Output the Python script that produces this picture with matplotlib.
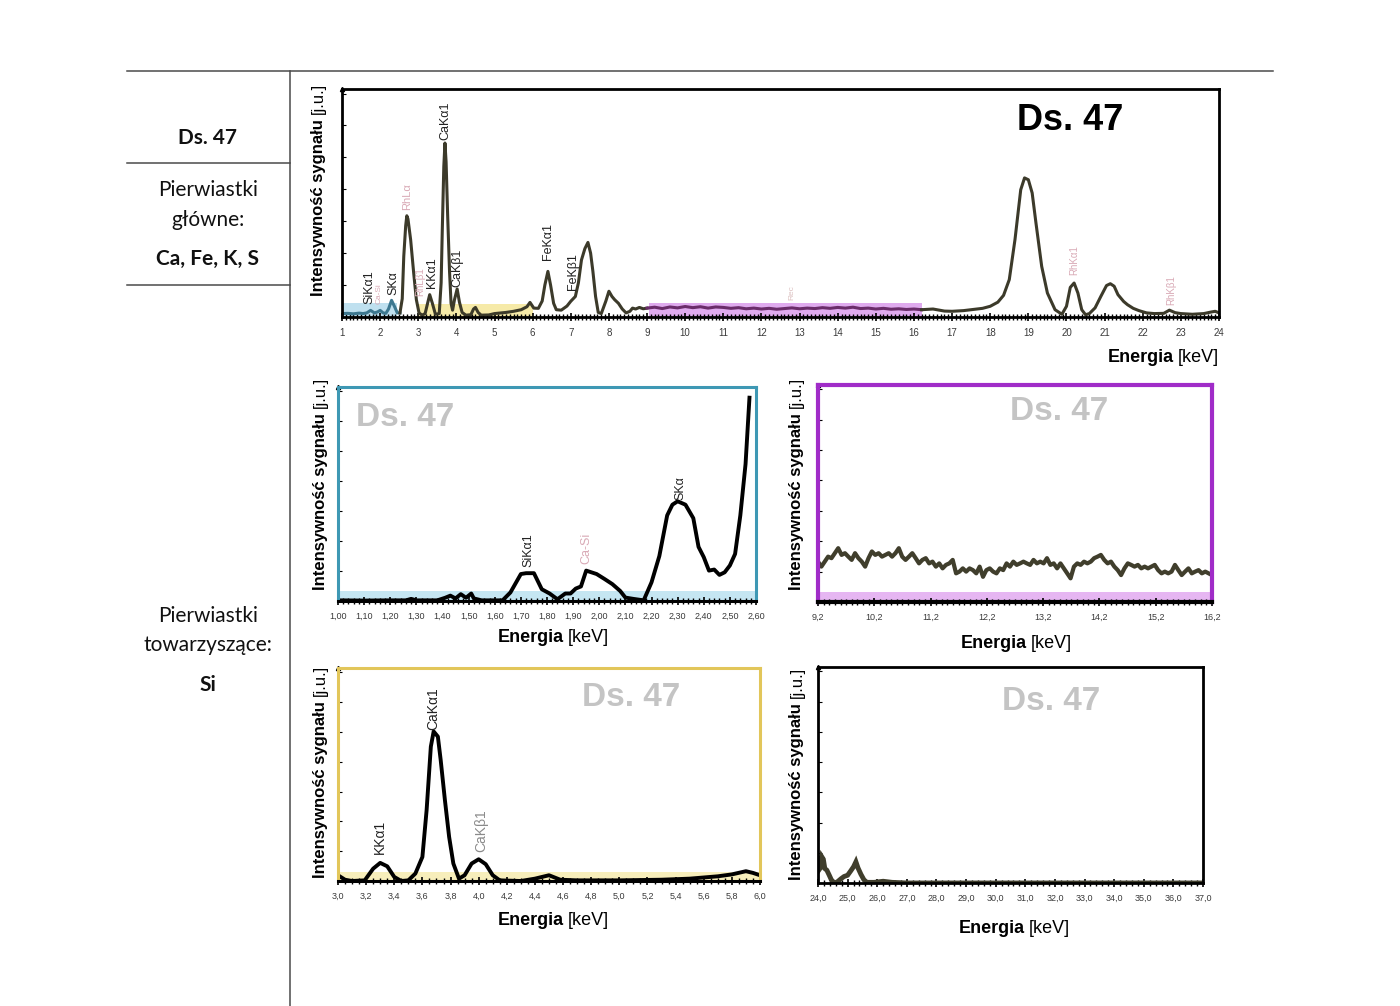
import matplotlib
matplotlib.use("Agg")
import matplotlib.pyplot as plt
import numpy as np
from matplotlib.lines import Line2D
from matplotlib.text import Annotation
from matplotlib.ticker import MultipleLocator, FixedLocator, FuncFormatter

W, H = 1400, 1006

# --- main spectrum 1-24 keV (intensity in arbitrary units, 0-100) ---
main_blue_e = [1.00, 1.15, 1.30, 1.45, 1.55, 1.65, 1.75, 1.85, 1.93, 2.00, 2.08, 2.15,
               2.22, 2.30, 2.38, 2.45, 2.52]
main_blue_i = [1.5, 1.6, 1.4, 1.7, 1.5, 1.8, 2.9, 1.8, 2.2, 2.9, 1.8, 1.6,
               3.5, 7.3, 4.5, 1.8, 1.8]

main_low_e = [2.52, 2.58, 2.62, 2.67, 2.70, 2.73, 2.80, 2.88, 2.95, 3.02, 3.10, 3.18,
              3.23, 3.30, 3.37, 3.45, 3.55, 3.60, 3.63, 3.67, 3.70, 3.73, 3.77, 3.82,
              3.86, 3.90, 3.95, 4.02, 4.08, 4.15, 4.25, 4.38, 4.45, 4.50, 4.57, 4.65,
              4.85, 5.00, 5.30, 5.50, 5.70, 5.85, 5.93, 6.03, 6.15, 6.25, 6.32, 6.40,
              6.47, 6.55, 6.62, 6.75, 6.90, 7.00, 7.12, 7.20, 7.28, 7.37, 7.45, 7.52,
              7.58, 7.65, 7.72, 7.80, 7.92, 8.00, 8.08, 8.15, 8.25, 8.35, 8.45, 8.55,
              8.62, 8.70, 8.80, 8.90, 9.00]
main_low_i = [1.8, 8.0, 26.6, 40.0, 44.4, 43.0, 33.9, 19.3, 7.6, 1.8, 0.8, 1.5,
              5.0, 9.8, 6.0, 1.2, 1.5, 15.0, 38.0, 66.0, 76.3, 68.0, 45.0, 20.0,
              6.0, 3.0, 7.6, 12.3, 6.5, 2.0, 0.8, 1.0, 3.5, 4.2, 2.0, 0.8,
              0.9, 1.5, 2.0, 2.5, 3.2, 4.5, 6.4, 3.9, 3.8, 7.0, 14.0, 20.0,
              14.0, 6.0, 3.2, 3.0, 4.8, 6.9, 9.0, 15.0, 25.0, 30.0, 32.7, 28.0,
              20.0, 9.0, 2.0, 1.5, 7.0, 11.3, 9.0, 7.6, 6.0, 3.5, 1.8, 2.5,
              3.9, 3.5, 4.2, 3.6, 3.9]

main_purple_i = [3.9, 4.3, 3.7, 4.4, 4.0, 4.6, 4.1, 4.5, 3.9, 4.4, 4.2, 3.8, 4.1,
                 3.6, 3.9, 3.5, 3.8, 3.4, 3.7, 4.0, 3.6, 3.9, 3.7, 4.1, 3.8, 4.2,
                 3.9, 4.3, 3.7, 3.9, 3.5, 3.8, 3.4, 3.6, 3.3, 3.5, 3.2]

main_high_e = [16.2, 16.5, 16.8, 17.0, 17.3, 17.5, 17.8, 18.0, 18.2, 18.35, 18.5, 18.65,
               18.8, 18.9, 19.0, 19.1, 19.2, 19.35, 19.5, 19.7, 19.88, 20.0, 20.1, 20.2,
               20.3, 20.4, 20.5, 20.6, 20.75, 20.9, 21.05, 21.15, 21.25, 21.35, 21.5, 21.6,
               21.75, 21.9, 22.1, 22.3, 22.55, 22.7, 22.85, 23.0, 23.3, 23.6, 23.8, 23.9, 24.0]
main_high_i = [3.2, 3.5, 2.6, 2.5, 2.8, 3.2, 3.8, 4.7, 6.5, 9.5, 16.4, 34.0,
               55.8, 61.0, 60.2, 54.4, 41.2, 22.2, 10.5, 3.2, 1.2, 4.7, 13.0, 14.9,
               10.5, 3.2, 1.0, 1.5, 4.0, 9.0, 13.8, 14.6, 13.5, 9.8, 6.8, 5.4,
               3.8, 2.8, 1.8, 1.5, 1.6, 3.0, 1.9, 1.5, 1.2, 1.5, 2.2, 2.5, 1.8]

main_labels = [("SiKα1", 1.72, 5.5, "#222222", 9), ("Ca-Si", 1.98, 5.5, "#d9aab6", 6),
               ("SKα", 2.35, 9.6, "#222222", 9), ("RhLα", 2.70, 47.0, "#d9aab6", 8),
               ("RhLβ1", 3.05, 9.0, "#d9aab6", 7), ("KKα1", 3.35, 12.7, "#222222", 9),
               ("CaKα1", 3.72, 77.6, "#222222", 9), ("CaKβ1", 4.03, 13.0, "#222222", 9),
               ("FeKα1", 6.40, 25.0, "#222222", 9), ("FeKβ1", 7.05, 11.8, "#222222", 9),
               ("Rec", 12.8, 7.5, "#dcc0c0", 6), ("RhKα1", 20.2, 18.4, "#d9aab6", 7),
               ("RhKβ1", 22.75, 5.3, "#d9aab6", 7)]

# --- zoom panel A: 1.00-2.60 keV ---
a_e = [1.00, 1.10, 1.20, 1.26, 1.28, 1.30, 1.38, 1.41, 1.43, 1.45, 1.47, 1.49, 1.51,
       1.52, 1.55, 1.63, 1.66, 1.70, 1.72, 1.75, 1.77, 1.78, 1.81, 1.84, 1.87, 1.89,
       1.91, 1.93, 1.95, 1.97, 1.99, 2.02, 2.05, 2.08, 2.10, 2.13, 2.17, 2.20, 2.23,
       2.26, 2.28, 2.30, 2.33, 2.36, 2.38, 2.40, 2.42, 2.44, 2.46, 2.48, 2.50, 2.52,
       2.54, 2.56, 2.575]
a_i = [0.3, 0.2, 0.3, 0.3, 1.0, 0.3, 0.3, 1.5, 2.5, 1.2, 3.2, 1.5, 3.5,
       1.2, 0.3, 0.3, 4.0, 12.6, 13.0, 13.0, 8.0, 5.5, 3.5, 0.8, 3.5, 3.5,
       5.8, 6.8, 14.2, 13.4, 12.6, 10.3, 7.9, 4.7, 1.6, 1.0, 0.3, 8.7, 21.0,
       40.0, 45.0, 46.6, 45.0, 38.7, 25.3, 20.5, 14.2, 14.7, 12.2, 13.4, 16.6, 22.0,
       40.0, 64.0, 95.0]
a_labels = [("SiKα1", 1.73, 15.8, "#222222"), ("Ca-Si", 1.95, 17.4, "#d9aab6"),
            ("SKα", 2.31, 47.4, "#222222")]

# --- zoom panel B: 9.2-16.2 keV (evenly spaced channels) ---
b_i = [18.6, 16.3, 18.6, 20.9, 20.2, 22.5, 24.8, 21.7, 22.5, 20.9, 19.4, 22.5, 20.2,
       18.6, 16.3, 20.2, 23.3, 21.7, 22.5, 20.9, 21.7, 22.5, 20.9, 22.5, 24.8, 20.9,
       19.4, 20.9, 22.5, 20.2, 17.8, 19.4, 20.2, 17.8, 18.6, 16.3, 17.8, 15.5, 17.1,
       17.8, 19.4, 13.2, 14.0, 15.5, 14.0, 15.5, 14.7, 13.2, 16.3, 11.6, 14.7, 15.5,
       14.0, 13.2, 15.5, 14.7, 17.8, 16.3, 18.6, 17.1, 17.8, 18.6, 17.8, 17.1, 19.4,
       17.8, 18.6, 17.8, 20.2, 17.1, 17.8, 15.5, 17.8, 15.5, 13.2, 10.9, 16.3, 17.8,
       17.1, 18.6, 17.8, 18.6, 20.2, 20.9, 21.7, 19.4, 17.8, 18.6, 16.3, 14.7, 12.4,
       15.5, 17.8, 17.1, 16.3, 17.1, 15.5, 16.3, 15.5, 16.3, 17.1, 14.7, 13.2, 14.0,
       13.2, 14.0, 17.1, 14.7, 12.4, 14.0, 15.5, 13.2, 14.0, 14.7, 13.2, 14.0, 13.2, 12.4]

# --- zoom panel C: 3.0-6.0 keV ---
c_e = [3.00, 3.05, 3.10, 3.19, 3.25, 3.30, 3.35, 3.40, 3.45, 3.50, 3.55, 3.60, 3.63,
       3.66, 3.68, 3.71, 3.73, 3.76, 3.79, 3.82, 3.86, 3.90, 3.95, 4.00, 4.05, 4.10,
       4.15, 4.30, 4.40, 4.50, 4.58, 4.70, 5.00, 5.30, 5.50, 5.70, 5.80, 5.90, 5.95, 6.00]
c_i = [2.7, 0.6, 0.0, 0.3, 5.8, 8.5, 6.9, 1.9, 0.0, 0.3, 3.5, 11.3, 33.3,
       63.1, 70.2, 67.8, 56.8, 38.0, 20.7, 8.2, 1.1, 2.7, 8.2, 10.2, 7.9, 2.7,
       0.3, 0.0, 1.1, 2.7, 0.6, 0.3, 0.3, 0.6, 1.1, 2.2, 3.1, 4.6, 3.8, 2.7]
c_labels = [("KKα1", 3.30, 12.9, "#222222"), ("CaKα1", 3.68, 71.0, "#222222"),
            ("CaKβ1", 4.02, 13.7, "#8a8a8a")]

# --- zoom panel D: 24-37 keV ---
d_e = [24.00, 24.03, 24.08, 24.13, 24.18, 24.23, 24.30, 24.38, 24.45, 24.55, 24.65,
       24.78, 24.88, 25.00, 25.10, 25.20, 25.28, 25.35, 25.45, 25.55, 25.65, 25.90,
       26.20, 26.50, 27.00, 37.00]
d_i = [11.4, 6.0, 7.0, 12.1, 11.0, 6.7, 5.9, 3.6, 1.5, 0.0, 0.5,
       2.0, 3.0, 3.6, 5.5, 7.5, 9.8, 7.0, 4.0, 1.5, 0.3, 0.3,
       0.8, 0.3, 0.0, 0.0]

NARROW = ["Liberation Sans Narrow", "Liberation Sans"]
OLIVE = "#3c3a2a"

fig = plt.figure(figsize=(W / 100, H / 100), dpi=100)


def fx(px):
    return px / W


def fy(py):
    return 1 - py / H


def add_axes(l, t, r, b):
    return fig.add_axes([fx(l), fy(b), (r - l) / W, (b - t) / H])


def comma(fmt):
    return FuncFormatter(lambda v, p: fmt.format(v).replace(".", ","))


def style(ax, x0, x1, major, minor, fmt, frame, lw, fs):
    ax.set_xlim(x0, x1)
    ax.set_ylim(0, 100)
    ax.xaxis.set_major_locator(FixedLocator(np.arange(x0, x1 + major / 2, major)))
    ax.xaxis.set_minor_locator(MultipleLocator(minor))
    ax.xaxis.set_major_formatter(comma(fmt))
    ax.tick_params(axis="x", which="both", direction="inout", color="black",
                   labelsize=fs, labelcolor="#3a3a3a", pad=5)
    ax.tick_params(axis="x", which="major", length=6, width=1.2)
    ax.tick_params(axis="x", which="minor", length=5, width=1.0)
    ax.set_yticks(np.arange(0, 100, 14))
    ax.tick_params(axis="y", direction="in", length=3, width=0.8, labelleft=False)
    for s in ax.spines.values():
        s.set_color(frame)
        s.set_linewidth(lw)
    ax.spines["bottom"].set_color("black")
    ax.plot([x0], [100], marker="^", ms=3, color="black", clip_on=False)
    for lab in ax.get_xticklabels():
        lab.set_family("Liberation Sans")


def energia(x_split, y):
    fig.text(fx(x_split), fy(y), "Energia", ha="right", va="baseline",
             fontsize=13, fontweight="bold", family=NARROW)
    fig.text(fx(x_split + 4), fy(y), "[keV]", ha="left", va="baseline",
             fontsize=13, family=NARROW)


def intens(x, y_bottom):
    t = fig.text(fx(x), fy(y_bottom), "Intensywność sygnału", rotation=90,
                 ha="center", va="bottom", fontsize=12, fontweight="bold", family=NARROW)
    fig.add_artist(Annotation("[j.u.]", xy=(0.5, 1), xycoords=t, xytext=(0, 4),
                              textcoords="offset points", rotation=90, ha="center",
                              va="bottom", fontsize=12, family=NARROW))


def ds(x, y, size, color):
    fig.text(fx(x), fy(y), "Ds. 47", ha="center", va="center", fontsize=size,
             fontweight="bold", color=color, family="Liberation Sans")


# --- table lines and left column ---
for xs, ys in [([127, 1273], [71, 71]), ([290, 290], [71, 1006]),
               ([127, 290], [163, 163]), ([127, 290], [285, 285])]:
    fig.add_artist(Line2D([fx(v) for v in xs], [fy(v) for v in ys],
                          transform=fig.transFigure, color="#4a4a4a", lw=1.1))

left_text = [("Ds. 47", 138, "bold"), ("Pierwiastki", 190, "normal"),
             ("główne:", 220, "normal"), ("Ca, Fe, K, S", 259, "bold"),
             ("Pierwiastki", 616, "normal"), ("towarzyszące:", 645, "normal"),
             ("Si", 685, "bold")]
for s, y, w in left_text:
    fig.text(fx(208), fy(y), s, ha="center", va="center", fontsize=15,
             fontweight=w, family="Lato", color="#111111")

# --- main panel ---
ax = add_axes(342, 89, 1219, 317)
style(ax, 1, 24, 1, 0.1, "{:.0f}", "black", 2.0, 7)
ax.fill_between([1.0, 2.45], 0, 6, color="#bfe0ef", lw=0)
ax.fill_between([3.0, 6.0], 0, 5.5, color="#f6eaa8", lw=0)
ax.fill_between([9.05, 16.2], 0, 6, color="#dfaaee", lw=0)
ax.plot(main_blue_e, main_blue_i, color="#3d7890", lw=2.2)
ax.plot(main_low_e, main_low_i, color=OLIVE, lw=2.2, solid_joinstyle="round")
ax.plot(np.linspace(9.0, 16.2, len(main_purple_i)), main_purple_i, color="#6a2c6a", lw=2.2)
ax.plot(main_high_e, main_high_i, color=OLIVE, lw=2.2, solid_joinstyle="round")
for s, x, y, c, fs in main_labels:
    ax.text(x, y, s, rotation=90, ha="center", va="bottom", fontsize=fs, color=c,
            family="Liberation Sans")
ds(1070, 120, 26, "black")
intens(318, 296)
energia(1174, 362)

# --- panel A ---
ax = add_axes(338, 387, 756, 601)
style(ax, 1.0, 2.6, 0.1, 0.02, "{:.2f}", "#3e98b4", 2.2, 6.5)
ax.axhspan(0, 4.5, color="#c5e6f2", lw=0)
ax.plot(a_e, a_i, color="black", lw=2.8, solid_joinstyle="round")
for s, x, y, c in a_labels:
    ax.text(x, y, s, rotation=90, ha="center", va="bottom", fontsize=9, color=c,
            family="Liberation Sans")
ds(405, 417, 24, "#c4c4c4")
intens(320, 590)
energia(564, 642)

# --- panel B ---
ax = add_axes(818, 385, 1212, 602)
style(ax, 9.2, 16.2, 1.0, 0.1, "{:.1f}", "#a02cc8", 3.0, 6.5)
ax.axhspan(0, 4.5, color="#e6b6f2", lw=0)
ax.plot(np.linspace(9.2, 16.2, len(b_i)), b_i, color="#403e2c", lw=3,
        solid_joinstyle="round")
ds(1059, 412, 24, "#c4c4c4")
intens(796, 590)
energia(1027, 648)

# --- panel C ---
ax = add_axes(338, 668, 760, 881)
style(ax, 3.0, 6.0, 0.2, 0.05, "{:.1f}", "#e2c65a", 2.2, 6.5)
ax.axhspan(0, 4.0, color="#f7eebb", lw=0)
ax.plot(c_e, c_i, color="black", lw=2.8, solid_joinstyle="round")
for s, x, y, c in c_labels:
    ax.text(x, y, s, rotation=90, ha="center", va="bottom", fontsize=10, color=c,
            family="Liberation Sans")
ds(631, 697, 24, "#c4c4c4")
intens(320, 878)
energia(564, 925)

# --- panel D ---
ax = add_axes(818, 667, 1203, 883)
style(ax, 24.0, 37.0, 1.0, 0.2, "{:.1f}", "black", 2.0, 6.5)
ax.plot(d_e, d_i, color="#403e2c", lw=3.5, solid_joinstyle="miter")
ds(1051, 702, 24, "#c4c4c4")
intens(797, 880)
energia(1025, 933)

fig.savefig("out.png", dpi=100, facecolor="white")
